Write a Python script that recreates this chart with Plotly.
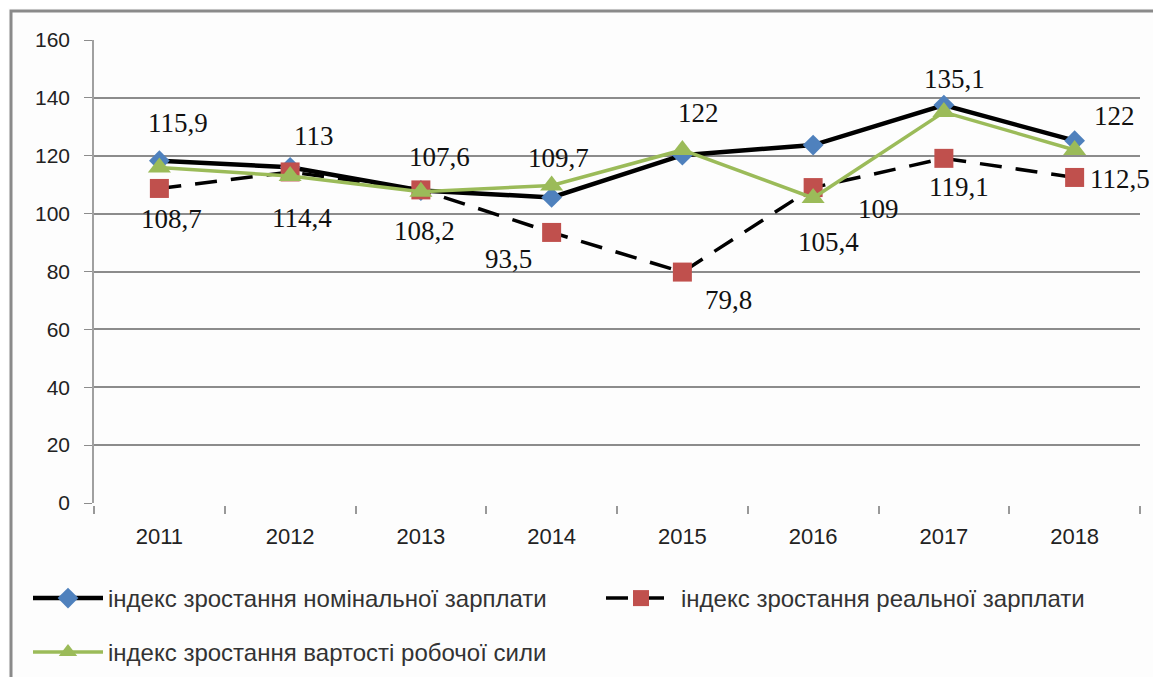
import plotly.graph_objects as go

years = ["2011", "2012", "2013", "2014", "2015", "2016", "2017", "2018"]
nominal = [118.3, 116.0, 108.0, 105.6, 120.2, 123.7, 137.5, 125.2]
real = [108.7, 114.4, 108.2, 93.5, 79.8, 109.0, 119.1, 112.5]
labour = [115.9, 113.0, 107.6, 109.7, 122.0, 105.4, 135.1, 122.0]
real_labels = ["108,7", "114,4", "108,2", "93,5", "79,8", "109", "119,1", "112,5"]
labour_labels = ["115,9", "113", "107,6", "109,7", "122", "105,4", "135,1", "122"]
names = [
    "індекс зростання номінальної зарплати",
    "індекс зростання реальної зарплати",
    "індекс зростання вартості робочої сили",
]
y_ticks = [0, 20, 40, 60, 80, 100, 120, 140, 160]

# label offsets in px (dx right, dy down)
real_off = [(12, 31), (12, 46), (4, 41), (-43, 27), (46, 28), (65, 21), (15, 29), (45, 2)]
labour_off = [(19, -45), (24, -40), (19, -35), (7, -28), (16, -37), (15, 44), (11, -33), (40, -34)]

BLUE = "#4F81BD"
RED = "#C0504D"
GREEN = "#9BBB59"

W, H = 1161, 677
ML, MR, MT, MB = 86, 29, 32, 182
PW, PH = W - ML - MR, H - MT - MB

fig = go.Figure()
fig.add_trace(go.Scatter(
    x=years, y=nominal, mode="lines+markers", name=names[0],
    line=dict(color="black", width=4.5),
    marker=dict(symbol="diamond", size=16, color=BLUE),
    legend="legend",
))
fig.add_trace(go.Scatter(
    x=years, y=real, mode="lines+markers", name=names[1],
    line=dict(color="black", width=3.5, dash="22px,14px"),
    marker=dict(symbol="square", size=19, color=RED),
    legend="legend2",
))
fig.add_trace(go.Scatter(
    x=years, y=labour, mode="lines+markers", name=names[2],
    line=dict(color=GREEN, width=3.5),
    marker=dict(symbol="triangle-up", size=20, color=GREEN),
    legend="legend3",
))

lab_font = dict(family="Liberation Serif, Times New Roman, serif", size=27, color="#111")
for i, (v, t, (dx, dy)) in enumerate(zip(real, real_labels, real_off)):
    fig.add_annotation(x=i, y=v, text=t, showarrow=False, xshift=dx, yshift=-dy, font=lab_font)
for i, (v, t, (dx, dy)) in enumerate(zip(labour, labour_labels, labour_off)):
    fig.add_annotation(x=i, y=v, text=t, showarrow=False, xshift=dx, yshift=-dy, font=lab_font)

leg_font = dict(family="Liberation Sans, Arial, sans-serif", size=24, color="#333")
common_leg = dict(orientation="h", xanchor="left", yanchor="top", font=leg_font,
                  itemwidth=70, bgcolor="rgba(0,0,0,0)", borderwidth=0,
                  xref="container", yref="container")

fig.update_layout(
    width=W, height=H,
    margin=dict(l=ML, r=MR, t=MT, b=MB),
    paper_bgcolor="#FDFDFD",
    plot_bgcolor="#FDFDFD",
    showlegend=True,
    legend=dict(x=20 / W, y=1 - 568 / H, **common_leg),
    legend2=dict(x=593 / W, y=1 - 568 / H, **common_leg),
    legend3=dict(x=20 / W, y=1 - 622 / H, **common_leg),
    xaxis=dict(
        type="category", categoryorder="array", categoryarray=years,
        range=[-0.5, len(years) - 0.5],
        tickson="boundaries", ticks="outside", ticklen=8,
        tickcolor="#999", tickwidth=1.5, ticklabelstandoff=12,
        showgrid=False, showline=True, linecolor="#FDFDFD", linewidth=3,
        tickfont=dict(family="Liberation Sans, Arial, sans-serif", size=22, color="#222"),
    ),
    yaxis=dict(
        range=[0, 160], tickvals=y_ticks, ticktext=[str(v) for v in y_ticks],
        showgrid=True, gridcolor="#8C8C8C", gridwidth=1.5,
        zeroline=False, showline=True, linecolor="#A0A0A0", linewidth=1.5,
        ticks="outside", ticklen=8, tickcolor="#8C8C8C", ticklabelstandoff=10,
        tickfont=dict(family="Liberation Sans, Arial, sans-serif", size=21, color="#222"),
    ),
    shapes=[dict(
        type="rect", xref="paper", yref="paper",
        x0=(3 - ML) / PW, x1=(1175 - ML) / PW,
        y0=(MT + PH - 700) / PH, y1=(MT + PH - 3) / PH,
        line=dict(color="#8A8A8A", width=3), fillcolor="rgba(0,0,0,0)", layer="below",
    )],
)

fig.write_html("out.html")
